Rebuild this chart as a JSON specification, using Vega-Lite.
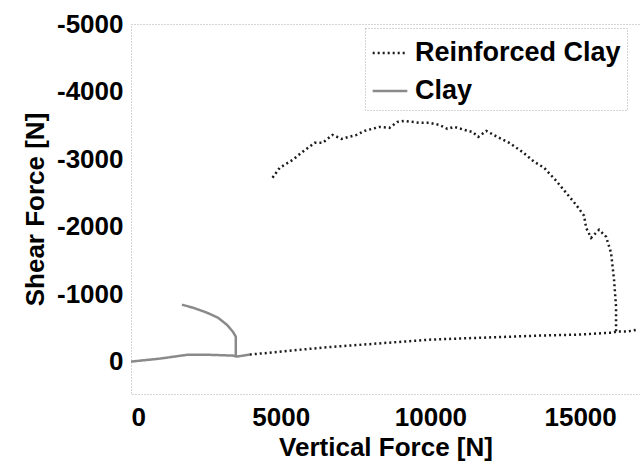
{
  "$schema": "https://vega.github.io/schema/vega-lite/v6.json",
  "width": 509,
  "height": 370,
  "autosize": {"type": "none"},
  "padding": {"left": 131, "top": 24, "right": 0, "bottom": 68},
  "background": "white",
  "config": {
    "view": {"stroke": "#aaaaaa", "strokeDash": [1, 2], "strokeWidth": 1},
    "font": "Liberation Sans"
  },
  "data": {
    "values": [
      {"series": "Clay", "seg": "a", "i": 1, "x": 0, "y": 0},
      {"series": "Clay", "seg": "a", "i": 2, "x": 967, "y": -44},
      {"series": "Clay", "seg": "a", "i": 3, "x": 1867, "y": -100},
      {"series": "Clay", "seg": "a", "i": 4, "x": 2633, "y": -100},
      {"series": "Clay", "seg": "a", "i": 5, "x": 3400, "y": -89},
      {"series": "Clay", "seg": "a", "i": 6, "x": 3533, "y": -74},
      {"series": "Clay", "seg": "a", "i": 7, "x": 3967, "y": -104},
      {"series": "Clay", "seg": "b", "i": 1, "x": 3500, "y": -74},
      {"series": "Clay", "seg": "b", "i": 2, "x": 3500, "y": -370},
      {"series": "Clay", "seg": "b", "i": 3, "x": 3400, "y": -444},
      {"series": "Clay", "seg": "b", "i": 4, "x": 3200, "y": -547},
      {"series": "Clay", "seg": "b", "i": 5, "x": 2900, "y": -651},
      {"series": "Clay", "seg": "b", "i": 6, "x": 2533, "y": -725},
      {"series": "Clay", "seg": "b", "i": 7, "x": 2067, "y": -799},
      {"series": "Clay", "seg": "b", "i": 8, "x": 1700, "y": -843},
      {"series": "Reinforced Clay", "seg": "c", "i": 1, "x": 3967, "y": -104},
      {"series": "Reinforced Clay", "seg": "c", "i": 2, "x": 6400, "y": -207},
      {"series": "Reinforced Clay", "seg": "c", "i": 3, "x": 9967, "y": -325},
      {"series": "Reinforced Clay", "seg": "c", "i": 4, "x": 13633, "y": -385},
      {"series": "Reinforced Clay", "seg": "c", "i": 5, "x": 14967, "y": -400},
      {"series": "Reinforced Clay", "seg": "c", "i": 6, "x": 16067, "y": -429},
      {"series": "Reinforced Clay", "seg": "c", "i": 7, "x": 16233, "y": -444},
      {"series": "Reinforced Clay", "seg": "c", "i": 8, "x": 16567, "y": -444},
      {"series": "Reinforced Clay", "seg": "c", "i": 9, "x": 16900, "y": -473},
      {"series": "Reinforced Clay", "seg": "d", "i": 1, "x": 16200, "y": -450},
      {"series": "Reinforced Clay", "seg": "d", "i": 2, "x": 16200, "y": -814},
      {"series": "Reinforced Clay", "seg": "d", "i": 3, "x": 16133, "y": -1213},
      {"series": "Reinforced Clay", "seg": "d", "i": 4, "x": 16033, "y": -1612},
      {"series": "Reinforced Clay", "seg": "d", "i": 5, "x": 15867, "y": -1849},
      {"series": "Reinforced Clay", "seg": "d", "i": 6, "x": 15633, "y": -1953},
      {"series": "Reinforced Clay", "seg": "d", "i": 7, "x": 15467, "y": -1879},
      {"series": "Reinforced Clay", "seg": "d", "i": 8, "x": 15367, "y": -1834},
      {"series": "Reinforced Clay", "seg": "d", "i": 9, "x": 15200, "y": -1982},
      {"series": "Reinforced Clay", "seg": "d", "i": 10, "x": 15133, "y": -2160},
      {"series": "Reinforced Clay", "seg": "d", "i": 11, "x": 14867, "y": -2322},
      {"series": "Reinforced Clay", "seg": "d", "i": 12, "x": 14533, "y": -2500},
      {"series": "Reinforced Clay", "seg": "d", "i": 13, "x": 14200, "y": -2678},
      {"series": "Reinforced Clay", "seg": "d", "i": 14, "x": 13800, "y": -2870},
      {"series": "Reinforced Clay", "seg": "d", "i": 15, "x": 13467, "y": -2959},
      {"series": "Reinforced Clay", "seg": "d", "i": 16, "x": 13067, "y": -3107},
      {"series": "Reinforced Clay", "seg": "d", "i": 17, "x": 12633, "y": -3240},
      {"series": "Reinforced Clay", "seg": "d", "i": 18, "x": 12233, "y": -3328},
      {"series": "Reinforced Clay", "seg": "d", "i": 19, "x": 11867, "y": -3417},
      {"series": "Reinforced Clay", "seg": "d", "i": 20, "x": 11600, "y": -3328},
      {"series": "Reinforced Clay", "seg": "d", "i": 21, "x": 11400, "y": -3402},
      {"series": "Reinforced Clay", "seg": "d", "i": 22, "x": 11133, "y": -3432},
      {"series": "Reinforced Clay", "seg": "d", "i": 23, "x": 10800, "y": -3476},
      {"series": "Reinforced Clay", "seg": "d", "i": 24, "x": 10567, "y": -3447},
      {"series": "Reinforced Clay", "seg": "d", "i": 25, "x": 10300, "y": -3506},
      {"series": "Reinforced Clay", "seg": "d", "i": 26, "x": 9967, "y": -3536},
      {"series": "Reinforced Clay", "seg": "d", "i": 27, "x": 9633, "y": -3536},
      {"series": "Reinforced Clay", "seg": "d", "i": 28, "x": 9133, "y": -3565},
      {"series": "Reinforced Clay", "seg": "d", "i": 29, "x": 8900, "y": -3550},
      {"series": "Reinforced Clay", "seg": "d", "i": 30, "x": 8633, "y": -3462},
      {"series": "Reinforced Clay", "seg": "d", "i": 31, "x": 8300, "y": -3476},
      {"series": "Reinforced Clay", "seg": "d", "i": 32, "x": 7800, "y": -3417},
      {"series": "Reinforced Clay", "seg": "d", "i": 33, "x": 7533, "y": -3358},
      {"series": "Reinforced Clay", "seg": "d", "i": 34, "x": 7033, "y": -3299},
      {"series": "Reinforced Clay", "seg": "d", "i": 35, "x": 6733, "y": -3358},
      {"series": "Reinforced Clay", "seg": "d", "i": 36, "x": 6400, "y": -3240},
      {"series": "Reinforced Clay", "seg": "d", "i": 37, "x": 6133, "y": -3240},
      {"series": "Reinforced Clay", "seg": "d", "i": 38, "x": 5733, "y": -3107},
      {"series": "Reinforced Clay", "seg": "d", "i": 39, "x": 5400, "y": -2988},
      {"series": "Reinforced Clay", "seg": "d", "i": 40, "x": 4967, "y": -2870},
      {"series": "Reinforced Clay", "seg": "d", "i": 41, "x": 4700, "y": -2707}
    ]
  },
  "mark": {"type": "line", "strokeWidth": 2.5, "clip": true},
  "encoding": {
    "x": {
      "field": "x", "type": "quantitative",
      "scale": {"domain": [0, 17000], "nice": false, "zero": false},
      "axis": {
        "title": "Vertical Force [N]", "values": [0, 5000, 10000, 15000],
        "format": "d", "grid": false, "domain": false, "ticks": false,
        "labelFontSize": 26, "labelFontWeight": "bold", "labelColor": "black", "labelPadding": 10,
        "titleFontSize": 26, "titleFontWeight": "bold", "titleColor": "black", "titlePadding": 4
      }
    },
    "y": {
      "field": "y", "type": "quantitative",
      "scale": {"domain": [-5000, 480], "reverse": true, "nice": false, "zero": false},
      "axis": {
        "title": "Shear Force [N]", "values": [-5000, -4000, -3000, -2000, -1000, 0],
        "labelExpr": "datum.value < 0 ? '-' + abs(datum.value) : '' + datum.value",
        "grid": false, "domain": false, "ticks": false,
        "labelFontSize": 26, "labelFontWeight": "bold", "labelColor": "black", "labelPadding": 8,
        "titleFontSize": 26, "titleFontWeight": "bold", "titleColor": "black", "titlePadding": 8
      }
    },
    "color": {
      "field": "series", "type": "nominal",
      "scale": {"domain": ["Reinforced Clay", "Clay"], "range": ["#1a1a1a", "#8a8a8a"]},
      "legend": {
        "title": null, "orient": "none", "legendX": 234, "legendY": 4,
        "symbolType": "stroke", "symbolSize": 1200, "symbolStrokeWidth": 2.5,
        "labelFontSize": 27, "labelFontWeight": "bold", "labelColor": "black", "labelLimit": 300,
        "labelOffset": 6,
        "rowPadding": 6, "padding": 6, "strokeColor": "#aaaaaa",
        "fillColor": "white",
        "encode": {"legend": {"update": {"strokeDash": {"value": [1, 2]}}}}
      }
    },
    "strokeDash": {
      "field": "series", "type": "nominal",
      "scale": {"domain": ["Reinforced Clay", "Clay"], "range": [[2, 3], [1, 0]]},
      "legend": null
    },
    "detail": {"field": "seg"},
    "order": {"field": "i", "type": "quantitative"}
  }
}
